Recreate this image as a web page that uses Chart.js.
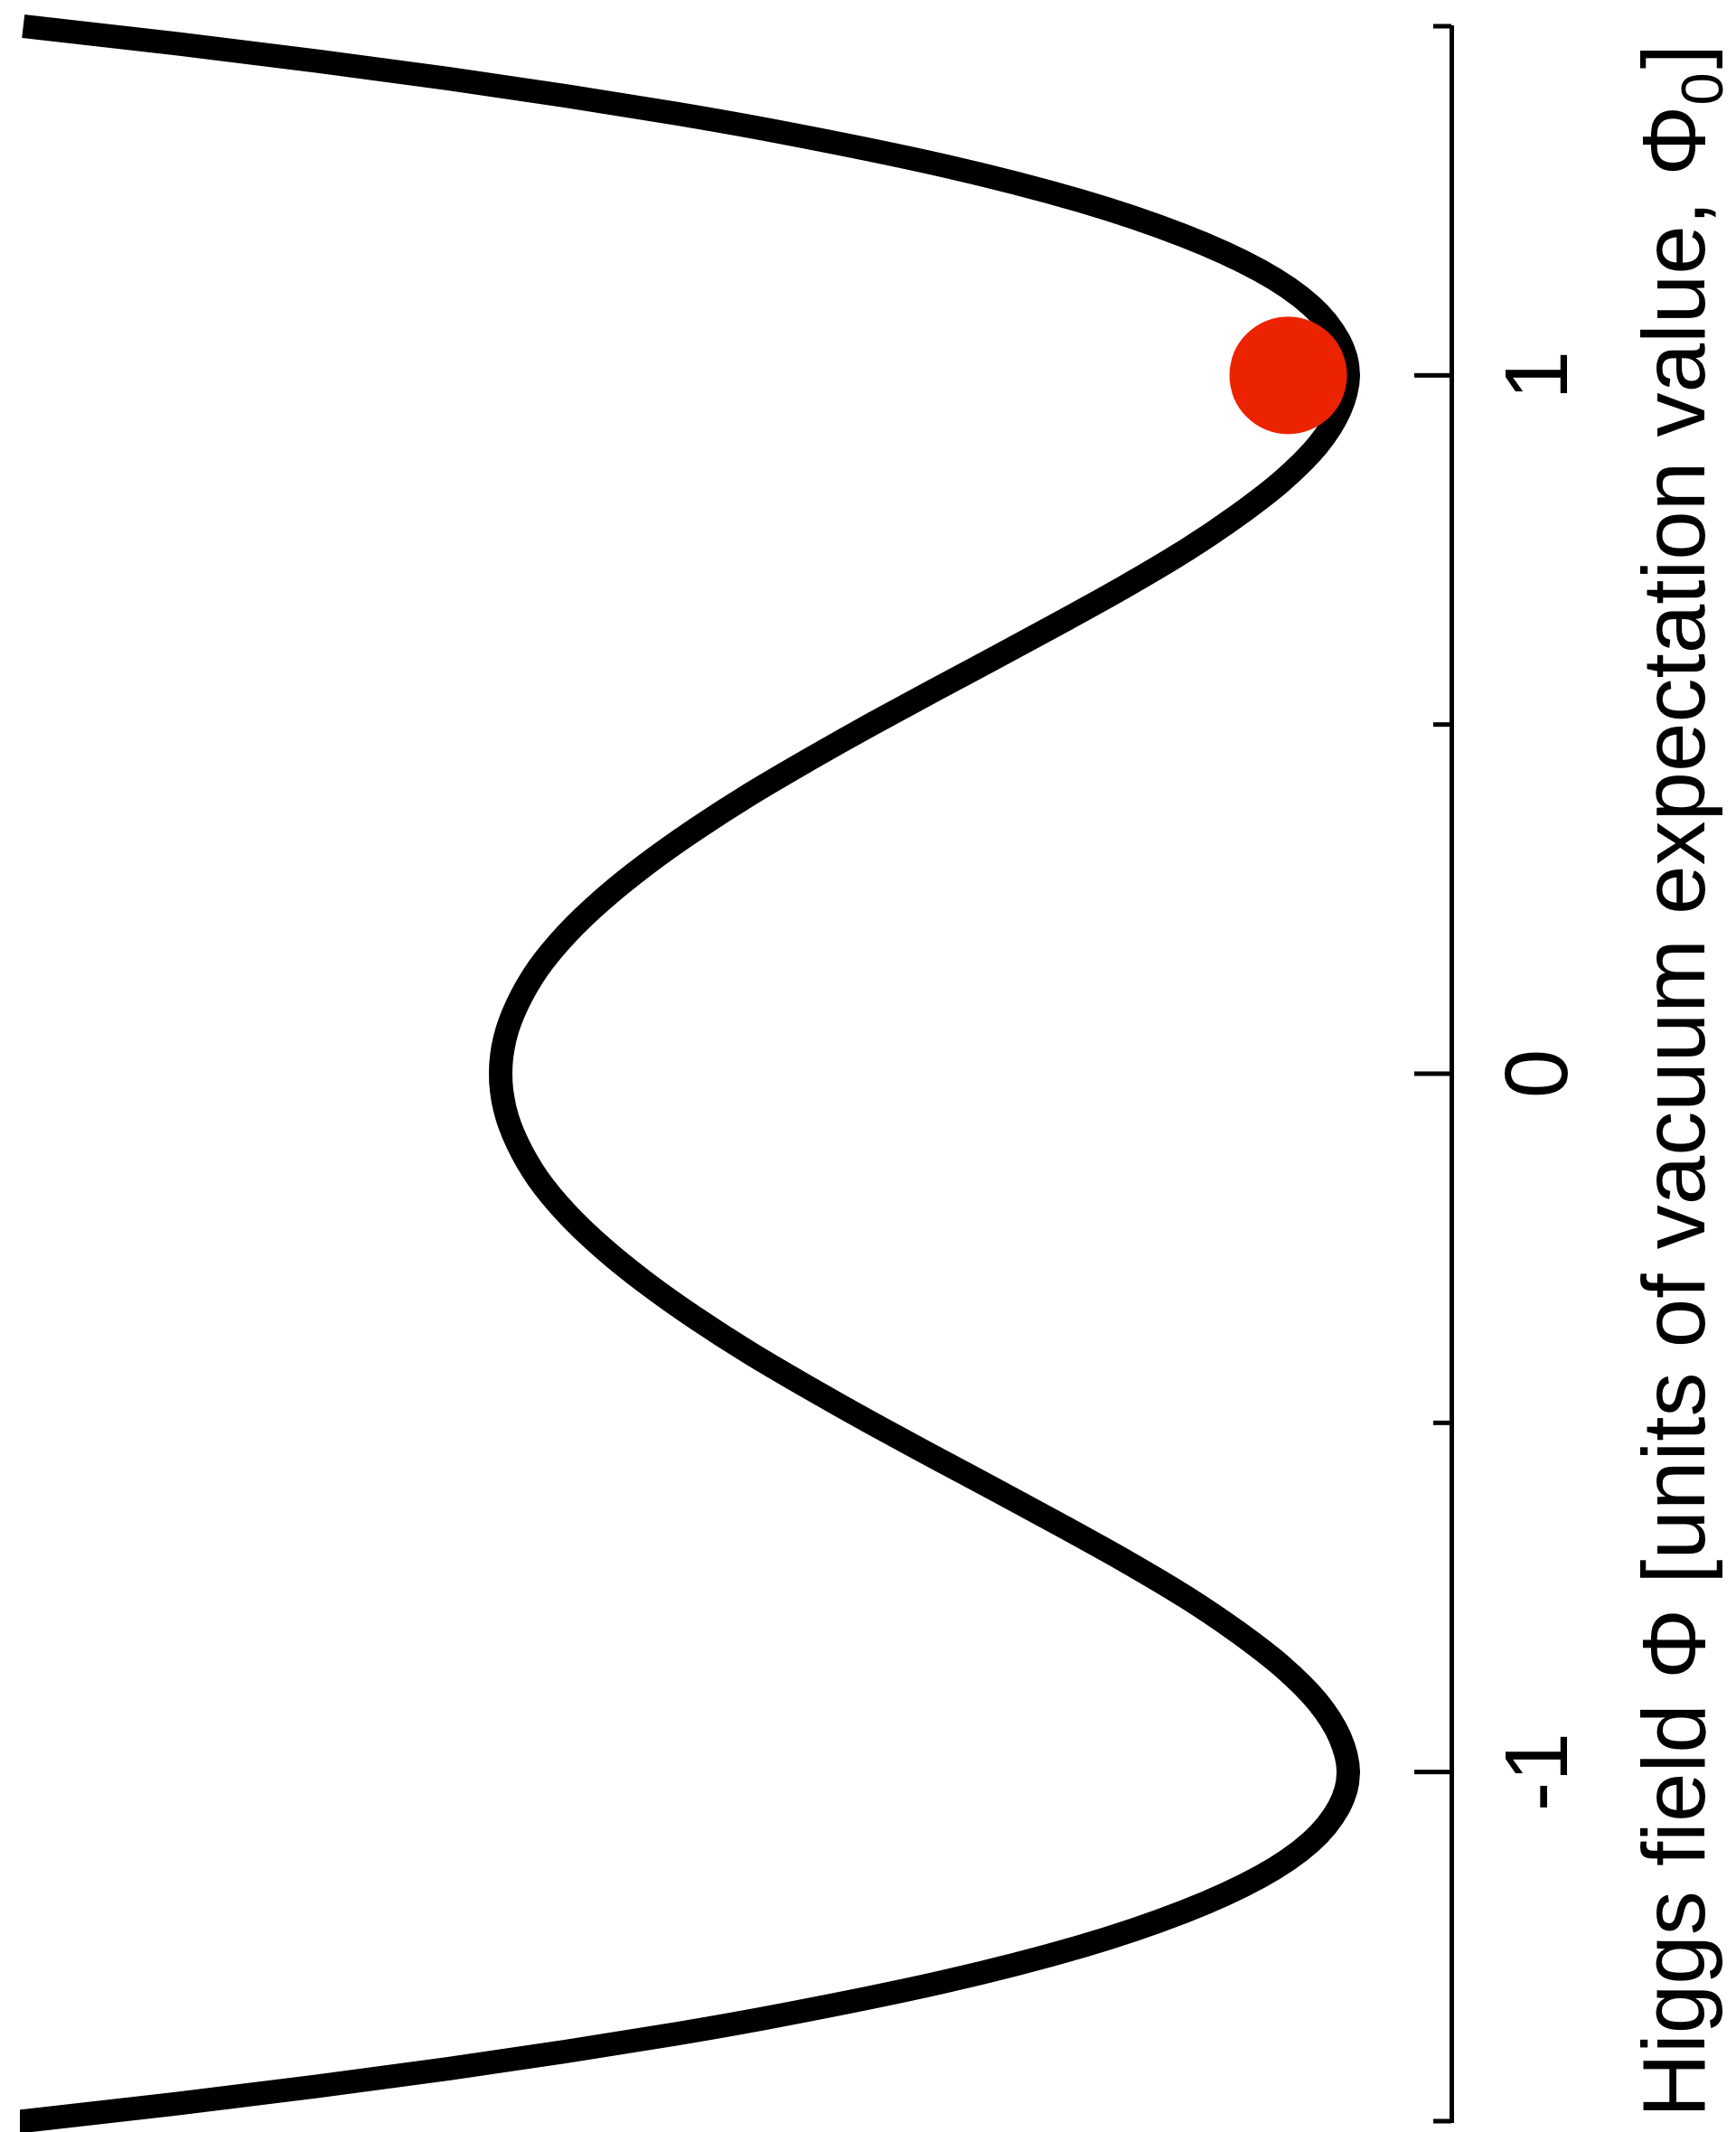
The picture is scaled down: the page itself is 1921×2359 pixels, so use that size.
<!DOCTYPE html>
<html>
<head>
<meta charset="utf-8">
<script src="https://cdn.jsdelivr.net/npm/chart.js@4/dist/chart.umd.min.js"></script>
<style>
  html, body { margin: 0; padding: 0; background: #fff; overflow: hidden; }
  /* The plot is laid out with the field on a horizontal axis, then turned a quarter-turn
     so the field axis runs up the right-hand side. */
  #stage {
    position: absolute; left: 0; top: 0;
    width: 2359px; height: 1921px;
    transform-origin: 0 0;
    transform: translateY(2359px) rotate(-90deg);
  }
  canvas { display: block; }
</style>
</head>
<body>
<div id="stage"><canvas id="potential" width="2359" height="1921"></canvas></div>
<script>
// Higgs field value (units of the vacuum expectation value)
const fieldValues = [
  -1.52, -1.5, -1.475, -1.45, -1.425, -1.4, -1.375, -1.35, -1.3, -1.25, -1.2, -1.15, -1.1, -1.05,
  -1, -0.95, -0.9, -0.85, -0.8, -0.75, -0.7, -0.65, -0.6, -0.55,
  -0.5, -0.45, -0.4, -0.35, -0.3, -0.25, -0.2, -0.15, -0.1, -0.05,
  0, 0.05, 0.1, 0.15, 0.2, 0.25, 0.3, 0.35, 0.4, 0.45,
  0.5, 0.55, 0.6, 0.65, 0.7, 0.75, 0.8, 0.85, 0.9, 0.95,
  1, 1.05, 1.1, 1.15, 1.2, 1.25, 1.3, 1.35, 1.375, 1.4, 1.425, 1.45, 1.475, 1.5, 1.52
];
// Potential energy at each field value (relative units, 1 at the central hump)
const potentialValues = [
  1.717, 1.563, 1.382, 1.216, 1.062, 0.922, 0.793, 0.677, 0.476, 0.316, 0.194, 0.104, 0.044, 0.011,
  0.000, 0.010, 0.036, 0.077, 0.130, 0.191, 0.260, 0.334, 0.410, 0.487,
  0.563, 0.636, 0.706, 0.770, 0.828, 0.879, 0.922, 0.956, 0.980, 0.995,
  1.000, 0.995, 0.980, 0.956, 0.922, 0.879, 0.828, 0.770, 0.706, 0.636,
  0.563, 0.487, 0.410, 0.334, 0.260, 0.191, 0.130, 0.077, 0.036, 0.010,
  0.000, 0.011, 0.044, 0.104, 0.194, 0.316, 0.476, 0.677, 0.793, 0.922, 1.062, 1.216, 1.382, 1.563, 1.717
];
// The ball resting in the right-hand minimum
const ballField = [1];
const ballPotential = [0.071];

// Field axis ticks
const tickValues = [-1.5, -1, -0.5, 0, 0.5, 1, 1.5];
const tickLabels = ['', '-1', '', '0', '', '1', ''];
const labelledTicks = [-1, 0, 1];

// Axis title, with the subscript of the vacuum value set apart
const titleMain = 'Higgs field \u03A6 [units of vacuum expectation value, \u03A6';
const titleSub = '0';
const titleEnd = ']';

const FONT = '"Liberation Sans", Arial, Helvetica, sans-serif';
const FONT_SIZE = 98;

// Tick marks drawn from the axis line into the plot
const inwardTicks = {
  id: 'inwardTicks',
  afterDraw(chart) {
    const { ctx, chartArea, scales: { x } } = chart;
    ctx.save();
    ctx.strokeStyle = '#000';
    ctx.lineWidth = 5;
    ctx.lineCap = 'butt';
    tickValues.forEach(v => {
      const px = x.getPixelForValue(v);
      const len = labelledTicks.includes(v) ? 41 : 20;
      ctx.beginPath();
      ctx.moveTo(px, chartArea.bottom);
      ctx.lineTo(px, chartArea.bottom - len);
      ctx.stroke();
    });
    ctx.restore();
  }
};

// Field axis title with a real subscript
const fieldTitle = {
  id: 'fieldTitle',
  afterDraw(chart) {
    const { ctx, scales: { x } } = chart;
    const subSize = Math.round(FONT_SIZE * 0.66);
    ctx.save();
    ctx.fillStyle = '#000';
    ctx.textBaseline = 'alphabetic';
    ctx.textAlign = 'left';
    ctx.font = `${FONT_SIZE}px ${FONT}`;
    const wMain = ctx.measureText(titleMain).width;
    const wEnd = ctx.measureText(titleEnd).width;
    ctx.font = `${subSize}px ${FONT}`;
    const wSub = ctx.measureText(titleSub).width;
    const total = wMain + wSub + 4 + wEnd;
    const centre = (x.left + x.right) / 2 - 8;
    const baseline = x.top + 280;
    let pos = centre - total / 2;
    ctx.font = `${FONT_SIZE}px ${FONT}`;
    ctx.fillText(titleMain, pos, baseline);
    pos += wMain;
    ctx.font = `${subSize}px ${FONT}`;
    ctx.fillText(titleSub, pos, baseline + 20);
    pos += wSub + 4;
    ctx.font = `${FONT_SIZE}px ${FONT}`;
    ctx.fillText(titleEnd, pos, baseline);
    ctx.restore();
  }
};

new Chart(document.getElementById('potential'), {
  type: 'line',
  data: {
    datasets: [
      {
        label: 'ball',
        data: ballField.map((f, i) => ({ x: f, y: ballPotential[i] })),
        showLine: false,
        pointRadius: 65,
        pointHoverRadius: 65,
        pointBackgroundColor: '#EC2300',
        pointBorderWidth: 0,
        clip: false
      },
      {
        label: 'potential',
        data: fieldValues.map((f, i) => ({ x: f, y: potentialValues[i] })),
        borderColor: '#000',
        borderWidth: 26,
        pointRadius: 0,
        cubicInterpolationMode: 'monotone',
        fill: false,
        clip: { left: 20, right: 20, top: 0, bottom: 0 }
      }
    ]
  },
  options: {
    responsive: false,
    animation: false,
    events: [],
    layout: { autoPadding: false, padding: { left: 12, right: 29, top: 22, bottom: 0 } },
    plugins: { legend: { display: false }, tooltip: { enabled: false } },
    scales: {
      x: {
        type: 'linear',
        position: 'bottom',
        min: -1.5,
        max: 1.5,
        afterBuildTicks: scale => { scale.ticks = tickValues.map(v => ({ value: v })); },
        afterFit: scale => {
          scale.height = 315;
          scale.paddingLeft = 0;
          scale.paddingRight = 0;
          scale.paddingTop = 0;
          scale.paddingBottom = 0;
        },
        grid: { display: false, drawTicks: true, tickLength: 42 },
        border: { display: true, color: '#000', width: 5 },
        ticks: {
          autoSkip: false,
          minRotation: 0,
          maxRotation: 0,
          padding: 0,
          color: '#000',
          font: { family: FONT, size: FONT_SIZE },
          callback: (value, index) => tickLabels[index]
        },
        title: { display: false }
      },
      y: { type: 'linear', display: false, min: -0.1215, max: 1.567 }
    }
  },
  plugins: [inwardTicks, fieldTitle]
});
</script>
</body>
</html>
